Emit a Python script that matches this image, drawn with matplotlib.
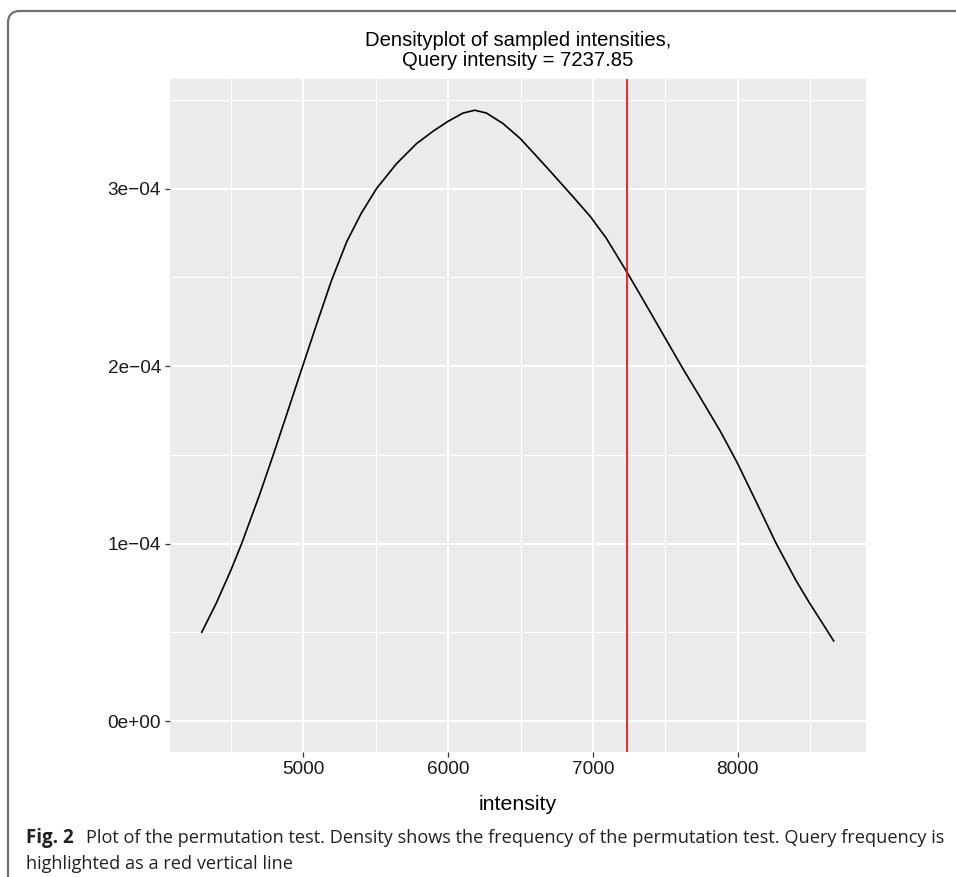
import matplotlib
matplotlib.use('Agg')
from matplotlib import pyplot as plt
from matplotlib import patches, transforms

# density curve (y in units of 1e-4)
intensity = [4299, 4400, 4500, 4575, 4701, 4793, 4903, 4986, 5090, 5194,
             5300, 5400, 5506, 5644, 5782, 5900, 6003, 6103, 6184, 6265,
             6379, 6499, 6590, 6679, 6874, 6981, 7092, 7234, 7345, 7497,
             7621, 7743, 7881, 7996, 8127, 8265, 8403, 8495, 8586, 8662]
density_e4 = [0.50, 0.665, 0.849, 1.00, 1.281, 1.50, 1.77, 1.975, 2.23, 2.48,
              2.70, 2.86, 3.00, 3.14, 3.253, 3.325, 3.380, 3.425, 3.441, 3.425,
              3.366, 3.281, 3.20, 3.121, 2.943, 2.843, 2.72, 2.53, 2.375, 2.16,
              1.985, 1.82, 1.63, 1.455, 1.235, 1.00, 0.79, 0.665, 0.549, 0.451]
density = [d * 1e-4 for d in density_e4]
query = 7237.85

x_ticks = [5000, 6000, 7000, 8000]
x_minor = [4500, 5500, 6500, 7500, 8500]
y_ticks = [0, 1e-4, 2e-4, 3e-4]
y_labels = ['0e+00', '1e\u221204', '2e\u221204', '3e\u221204']
y_minor = [0.5e-4, 1.5e-4, 2.5e-4, 3.5e-4]

plt.rcParams['font.family'] = ['Liberation Sans', 'DejaVu Sans']

W, H = 956, 877
fig = plt.figure(figsize=(W / 100, H / 100), dpi=100)
fig.patch.set_facecolor('white')

# panel placed in pixel units
left, right, top, bottom = 170, 866, 79, 752
ax = fig.add_axes([left / W, 1 - bottom / H, (right - left) / W, (bottom - top) / H])
ax.set_facecolor('#EBEBEB')
for s in ax.spines.values():
    s.set_visible(False)

ax.set_xlim(4080, 8885)
ax.set_ylim(-0.1745e-4, 3.617e-4)

for v in x_minor:
    ax.axvline(v, color='white', lw=0.8, zorder=0)
for v in y_minor:
    ax.axhline(v, color='white', lw=0.8, zorder=0)
for v in x_ticks:
    ax.axvline(v, color='white', lw=1.5, zorder=0)
for v in y_ticks:
    ax.axhline(v, color='white', lw=1.5, zorder=0)

ax.plot(intensity, density, color='black', lw=1.2, zorder=3,
        solid_joinstyle='round')
ax.axvline(query, color='#FF0000', lw=1.2, zorder=4)

ax.set_xticks(x_ticks)
ax.set_xticklabels([str(v) for v in x_ticks])
ax.set_yticks(y_ticks)
ax.set_yticklabels(y_labels)
ax.tick_params(axis='both', length=3.5, width=0.9, color='#333333',
               labelsize=13.7, labelcolor='#1a1a1a', pad=3)

ax.set_xlabel('intensity', fontsize=15.3, color='black', labelpad=12)
ax.set_title('Densityplot of sampled intensities,\nQuery intensity = 7237.85',
             fontsize=14.6, color='black', pad=9, linespacing=1.1)

# rounded frame around the figure (pixel coords)
frame = patches.FancyBboxPatch((8, -60), 1100, H - 11 + 60,
                               boxstyle='round,pad=0,rounding_size=12',
                               transform=transforms.IdentityTransform(),
                               fill=False, ec='#707070', lw=1.6)
fig.add_artist(frame)

cap_font = ['Open Sans', 'DejaVu Sans']
cap_size = 13.1
fig.text(26 / W, 1 - 843 / H, 'Fig. 2', fontsize=cap_size + 0.4, fontweight='bold',
         family=cap_font, color='#231f20')
fig.text(86 / W, 1 - 843 / H,
         'Plot of the permutation test. Density shows the frequency of the permutation test. Query frequency is',
         fontsize=cap_size, family=cap_font, color='#231f20')
fig.text(26 / W, 1 - 869 / H, 'highlighted as a red vertical line',
         fontsize=cap_size, family=cap_font, color='#231f20')

fig.savefig('out.png', dpi=100)
